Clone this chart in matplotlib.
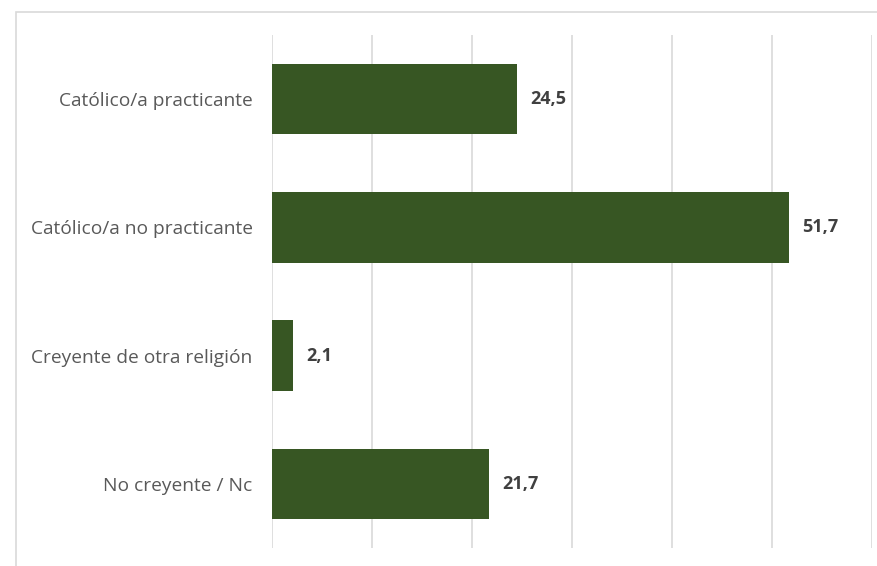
import matplotlib
matplotlib.use("Agg")
import matplotlib.pyplot as plt
from matplotlib.patches import Rectangle

categories = ["Católico/a practicante", "Católico/a no practicante",
              "Creyente de otra religión", "No creyente / Nc"]
values = [24.5, 51.7, 2.1, 21.7]
value_labels = ["24,5", "51,7", "2,1", "21,7"]

BAR_COLOR = "#375623"
GRID_COLOR = "#D9D9D9"
LABEL_COLOR = "#595959"
VALUE_COLOR = "#404040"

plt.rcParams["font.family"] = ["Open Sans", "DejaVu Sans"]

fig = plt.figure(figsize=(8.77, 5.66), dpi=100)
W, H = 877, 566

# outer chart frame (cropped on the right and bottom)
fig.patches.append(Rectangle((16 / W, -0.1), 1.2, (H - 11.5) / H + 0.1,
                             transform=fig.transFigure, fill=False,
                             edgecolor=GRID_COLOR, linewidth=1.2))

ax = fig.add_axes([272 / W, 18 / H, 600 / W, 513 / H])
ypos = list(range(len(categories)))
ax.barh(ypos, values, height=0.55, color=BAR_COLOR, zorder=3)
ax.set_ylim(len(categories) - 0.5, -0.5)
ax.set_xlim(0, 60)
ax.set_xticks(range(0, 61, 10))
ax.xaxis.grid(True, color=GRID_COLOR, linewidth=1.2, zorder=0)
ax.tick_params(axis="x", length=0, labelbottom=False)
ax.tick_params(axis="y", length=0, pad=14)
ax.set_yticks(ypos)
ax.set_yticklabels(categories, fontsize=13.8, color=LABEL_COLOR)
for s in ax.spines.values():
    s.set_visible(False)

for y, v, lab in zip(ypos, values, value_labels):
    ax.annotate(lab, (v, y), xytext=(9.5, 0), textcoords="offset points",
                va="center", ha="left", fontsize=13, fontweight="bold",
                color=VALUE_COLOR)

fig.savefig("out.png", dpi=100)
